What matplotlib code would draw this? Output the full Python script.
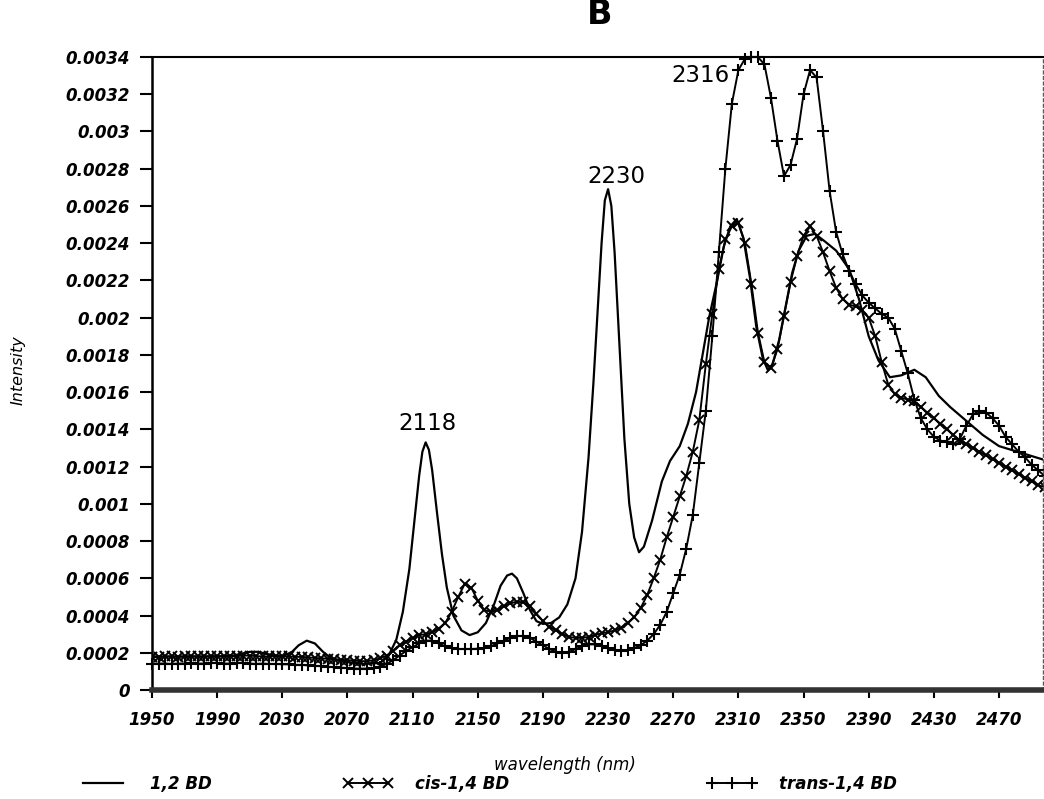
#NIR spectra B - intensity vs wavelength

import numpy as np
import matplotlib
matplotlib.use("Agg")
import matplotlib.pyplot as plt
from matplotlib.lines import Line2D

plt.rcParams['font.family'] = 'DejaVu Sans'
plt.rcParams['font.style'] = 'italic'
plt.rcParams['font.weight'] = 'bold'

#wavelength grid (nm) of the marked spectra, one point every 4 nm
wl_marked = np.arange(1950, 2500, 4)

#cis-1,4 BD, intensity x 1e-4
cis_14 = [1.75, 1.78, 1.80, 1.80, 1.78, 1.80, 1.82, 1.80, 1.80, 1.82,
          1.82, 1.80, 1.80, 1.82, 1.85, 1.85, 1.82, 1.80, 1.80, 1.82,
          1.80, 1.80, 1.78, 1.78, 1.75, 1.72, 1.70, 1.68, 1.65, 1.62,
          1.60, 1.58, 1.55, 1.55, 1.60, 1.70, 1.85, 2.10, 2.40, 2.60,
          2.80, 2.95, 3.00, 3.10, 3.30, 3.60, 4.20, 5.00, 5.70, 5.50,
          4.80, 4.30, 4.20, 4.30, 4.50, 4.65, 4.75, 4.70, 4.50, 4.10,
          3.70, 3.40, 3.20, 3.00, 2.85, 2.80, 2.80, 2.85, 2.95, 3.05,
          3.10, 3.20, 3.35, 3.60, 3.90, 4.40, 5.10, 6.00, 7.00, 8.20,
          9.30, 10.4, 11.5, 12.8, 14.5, 17.5, 20.2, 22.6, 24.2, 24.9,
          25.1, 24.0, 21.8, 19.2, 17.6, 17.3, 18.3, 20.1, 21.9, 23.3,
          24.4, 24.9, 24.4, 23.5, 22.5, 21.6, 21.0, 20.7, 20.6, 20.4,
          20.0, 19.0, 17.6, 16.4, 15.9, 15.7, 15.6, 15.5, 15.2, 14.9,
          14.6, 14.3, 14.0, 13.7, 13.4, 13.2, 13.0, 12.8, 12.6, 12.4,
          12.2, 12.0, 11.8, 11.6, 11.4, 11.2, 11.0, 10.9]

#trans-1,4 BD, intensity x 1e-4
trans_14 = [1.40, 1.42, 1.42, 1.40, 1.42, 1.42, 1.45, 1.42, 1.42, 1.45,
            1.45, 1.42, 1.42, 1.45, 1.45, 1.42, 1.40, 1.42, 1.40, 1.40,
            1.38, 1.38, 1.35, 1.35, 1.32, 1.30, 1.28, 1.25, 1.22, 1.20,
            1.18, 1.15, 1.15, 1.15, 1.18, 1.25, 1.40, 1.60, 1.85, 2.10,
            2.30, 2.50, 2.65, 2.65, 2.50, 2.35, 2.25, 2.20, 2.20, 2.20,
            2.22, 2.25, 2.35, 2.50, 2.65, 2.80, 2.90, 2.90, 2.80, 2.60,
            2.40, 2.20, 2.05, 2.00, 2.05, 2.20, 2.35, 2.45, 2.45, 2.35,
            2.25, 2.15, 2.10, 2.15, 2.25, 2.40, 2.65, 3.00, 3.50, 4.20,
            5.20, 6.20, 7.60, 9.40, 12.2, 15.0, 19.0, 23.5, 28.0, 31.5,
            33.3, 33.9, 34.0, 34.0, 33.6, 31.8, 29.5, 27.6, 28.2, 29.6,
            32.0, 33.3, 32.9, 30.0, 26.8, 24.6, 23.4, 22.5, 21.8, 21.2,
            20.8, 20.5, 20.2, 20.0, 19.4, 18.2, 17.0, 15.6, 14.6, 14.0,
            13.6, 13.4, 13.3, 13.2, 13.5, 14.2, 14.8, 15.0, 14.9, 14.6,
            14.2, 13.6, 13.2, 12.8, 12.5, 12.1, 11.8, 11.5]

#1,2 BD (plain line), read at its own wavelengths
wl_12 = [1950, 1970, 1990, 2000, 2005, 2010, 2015, 2020, 2025, 2030,
         2036, 2040, 2045, 2050, 2055, 2060, 2070, 2080, 2090, 2095,
         2100, 2104, 2108, 2111, 2114, 2116, 2118, 2120, 2122, 2125,
         2128, 2131, 2135, 2140, 2145, 2150, 2155, 2160, 2164, 2168,
         2171, 2174, 2178, 2182, 2186, 2190, 2195, 2200, 2205, 2210,
         2214, 2218, 2221, 2224, 2226, 2228, 2230, 2232, 2234, 2237,
         2240, 2243, 2246, 2249, 2252, 2257, 2263, 2268, 2274, 2279,
         2284, 2288, 2292, 2297, 2301, 2305, 2309, 2313, 2317, 2321,
         2325, 2328, 2331, 2335, 2339, 2343, 2347, 2352, 2357, 2363,
         2370, 2378, 2384, 2390, 2396, 2403, 2410, 2418, 2425, 2433,
         2440, 2448, 2460, 2470, 2485, 2500]
bd_12 = [1.80, 1.80, 1.80, 1.85, 1.95, 2.05, 2.05, 1.95, 1.85, 1.80,
         2.05, 2.40, 2.65, 2.50, 2.05, 1.70, 1.50, 1.40, 1.45, 1.80,
         2.70, 4.20, 6.50, 9.00, 11.5, 12.8, 13.3, 12.9, 11.8, 9.50,
         7.30, 5.50, 4.00, 3.20, 2.95, 3.10, 3.60, 4.60, 5.60, 6.15,
         6.25, 6.00, 5.20, 4.30, 3.70, 3.55, 3.60, 3.90, 4.60, 6.00,
         8.50, 12.5, 16.5, 21.0, 24.0, 26.3, 26.9, 26.0, 23.5, 18.5,
         13.5, 10.0, 8.20, 7.40, 7.70, 9.10, 11.2, 12.3, 13.1, 14.3,
         16.0, 18.0, 20.0, 22.0, 23.8, 24.9, 25.3, 24.3, 22.2, 19.5,
         17.8, 17.2, 17.5, 18.8, 20.6, 22.4, 23.6, 24.4, 24.5, 24.1,
         23.6, 22.6, 21.0, 19.0, 17.7, 16.8, 16.9, 17.2, 16.8, 15.8,
         15.2, 14.6, 13.7, 13.1, 12.7, 12.3]

#peak labels (text, wavelength, intensity x 1e-4)
peak_labels = [("2118", 2119, 14.3), ("2230", 2235, 27.6), ("2316", 2287, 33.0)]

x_ticks = [1950, 1990, 2030, 2070, 2110, 2150, 2190, 2230, 2270, 2310,
           2350, 2390, 2430, 2470]
y_ticks = np.arange(0, 35, 2) * 1e-4

scale = 1e-4

fig = plt.figure(figsize=(10.44, 7.99), dpi=100)
ax = fig.add_axes([152/1044, 1 - 690/799, 891/1044, 633/799])

ax.plot(wl_12, np.array(bd_12) * scale, color='black', lw=1.6, label='1,2 BD')
ax.plot(wl_marked, np.array(cis_14) * scale, color='black', lw=1.4,
        marker='x', ms=6.5, mew=1.4, label='cis-1,4 BD')
ax.plot(wl_marked, np.array(trans_14) * scale, color='black', lw=1.4,
        marker='+', ms=8, mew=1.5, label='trans-1,4 BD', clip_on=False)

for txt, xw, yv in peak_labels:
    ax.text(xw, yv * scale, txt, ha='center', va='center', fontsize=16.5,
            fontstyle='normal', fontweight='normal')

ax.set_xlim(1950, 2497)
ax.set_ylim(0, 0.0034)
ax.set_xticks(x_ticks)
ax.set_xticklabels([str(t) for t in x_ticks])
ax.set_yticks(y_ticks)
ax.set_yticklabels([f"{v:.4f}".rstrip('0').rstrip('.') for v in y_ticks])

ax.tick_params(axis='y', direction='out', length=9, width=1.5, pad=7, labelsize=12)
ax.tick_params(axis='x', direction='out', length=6, width=1.5, pad=9, labelsize=12)

ax.spines['bottom'].set_linewidth(4)
ax.spines['bottom'].set_color('0.2')
ax.spines['left'].set_linewidth(1.8)
ax.spines['top'].set_linewidth(1.5)
ax.spines['right'].set_linewidth(1)
ax.spines['right'].set_linestyle((0, (2, 2)))
ax.spines['right'].set_color('0.35')

ax.set_xlabel("wavelength (nm)", fontsize=12, va='center')
ax.xaxis.set_label_coords((565 - 152)/891, (690 - 765)/633)
ax.set_ylabel("Intensity", fontsize=11.5, va='center')
ax.yaxis.set_label_coords((18 - 152)/891, (690 - 370)/633)

fig.text(600/1044, 1 - 15/799, "B", ha='center', va='center', fontsize=24,
         fontstyle='normal', fontweight='bold')

#legend row along the bottom, one entry per column as in the original
handles, labels = ax.get_legend_handles_labels()
leg_x = [78, 343, 707]
for h, lab, xp in zip(handles, labels, leg_x):
    fig.legend([h], [lab], loc='center left', bbox_to_anchor=(xp/1044, 1 - 784/799),
               frameon=False, fontsize=12, handlelength=3.0, handletextpad=1.3,
               borderpad=0, borderaxespad=0, numpoints=3)

fig.savefig("out.png", dpi=100)
